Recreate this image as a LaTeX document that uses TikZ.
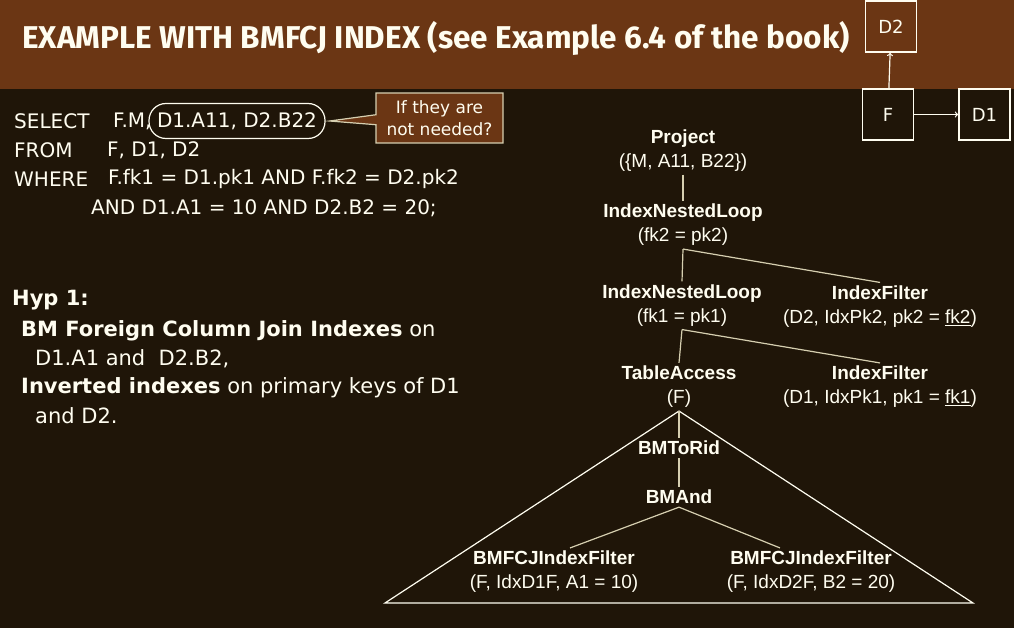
\documentclass[tikz,border=0pt]{standalone}
\usepackage{fontspec}
\usepackage{tikz}
\usetikzlibrary{shapes.callouts}
\setmainfont{Liberation Sans}
\newfontfamily\comic{DejaVu Sans}
\newfontfamily\headfont{Fira Sans}
\definecolor{hdr}{HTML}{6B3614}
\definecolor{bg}{HTML}{1F1508}
\definecolor{ink}{HTML}{FFFDF0}
\definecolor{edgec}{HTML}{D6CFB0}

\begin{document}
\begin{tikzpicture}[x=1pt,y=-1pt]
                \fill[bg] (0,0) rectangle (1014,628);
                \fill[hdr] (0,0) rectangle (1014,89);
                \node [anchor=west, inner sep=0, text=ink, font=\headfont\bfseries\fontsize{31.5}{34}\selectfont] (T) at (22,38) {EXAMPLE WITH BMFCJ INDEX (see Example 6.4 of the book)};
                % schema
                \begin{scope}[every node/.style={draw=ink, line width=1.6, minimum size=51, text=ink, font=\comic\fontsize{18}{22}\selectfont}]
                        \node [fill=hdr] (D2) at (891,26.5) {D2};
                        \node [fill=bg] (F) at (888,114.5) {F};
                        \node [fill=bg] (D1) at (984.5,114.5) {D1};
                \end{scope}
                \begin{scope}[every path/.style={draw=ink, line width=1.2, ->, >=to}]
                        \path (F) edge (D2);
                        \path (F) edge (D1);
                \end{scope}
                % query
                \begin{scope}[every node/.style={anchor=west, inner sep=0, text=ink, font=\comic\fontsize{20}{24}\selectfont}]
                        \node (sel) at (14,121) {SELECT};
                        \node (selA) at (113,121) {F.M,};
                        \node (frm) at (14,150) {FROM};
                        \node (frmA) at (107,150) {F, D1, D2};
                        \node (whr) at (14,179) {WHERE};
                        \node (whrA) at (108,179) {F.fk1 = D1.pk1 AND F.fk2 = D2.pk2};
                        \node (whrB) at (91,208) {AND D1.A1 = 10 AND D2.B2 = 20;};
                \end{scope}
                \node [draw=ink, line width=1.2, rounded corners=17, minimum width=176, minimum height=35, inner sep=4, text=ink, font=\comic\fontsize{20}{24}\selectfont] (cols) at (237,121) {D1.A11, D2.B22};
                \node [rectangle callout, draw=edgec, line width=1.2, fill=hdr, minimum width=127, minimum height=50, inner sep=3, align=center, text=ink, font=\comic\fontsize{17}{22}\selectfont, callout absolute pointer={([xshift=4]cols.east)}, callout pointer width=10] (note) at (439.5,118) {If they are\\not needed?};
                % hypothesis
                \begin{scope}[every node/.style={anchor=west, inner sep=0, text=ink, font=\comic\fontsize{21}{24}\selectfont}]
                        \node (h0) at (12,300) {\textbf{Hyp 1:}};
                        \node (h1) at (21,331) {\textbf{BM Foreign Column Join Indexes} on};
                        \node (h2) at (35,359) {D1.A1 and\ \ D2.B2,};
                        \node (h3) at (21,388) {\textbf{Inverted indexes} on primary keys of D1};
                        \node (h4) at (35,416) {and D2.};
                \end{scope}
                % plan
                \begin{scope}[every node/.style={align=center, inner sep=3, text=ink, font=\fontsize{19}{24}\selectfont}]
                        \node (P) at (683,150.5) {\textbf{Project}\\(\{M, A11, B22\})};
                        \node (INL2) at (683,225) {\textbf{IndexNestedLoop}\\(fk2 = pk2)};
                        \node (INL1) at (682,305.5) {\textbf{IndexNestedLoop}\\(fk1 = pk1)};
                        \node (IF2) at (880,306.5) {\textbf{IndexFilter}\\(D2, IdxPk2, pk2 = \underline{fk2})};
                        \node (TA) at (679,387) {\textbf{TableAccess}\\(F)};
                        \node (IF1) at (880,387) {\textbf{IndexFilter}\\(D1, IdxPk1, pk1 = \underline{fk1})};
                        \node (BR) at (679,448) {\textbf{BMToRid}};
                        \node (BA) at (679,497) {\textbf{BMAnd}};
                        \node (BF1) at (554,572) {\textbf{BMFCJIndexFilter}\\(F, IdxD1F, A1 = 10)};
                        \node (BF2) at (811,572) {\textbf{BMFCJIndexFilter}\\(F, IdxD2F, B2 = 20)};
                \end{scope}
                \coordinate (bl) at (385,603);
                \coordinate (br) at (973,603);
                \draw [draw=ink, line width=1.2] (bl) -- (TA.south) -- (br) -- cycle;
                \begin{scope}[every path/.style={draw=edgec, line width=1.2}]
                        \path (P.south) edge (INL2.north);
                        \path (INL2.south) edge (INL1.north);
                        \path (INL2.south) edge (IF2.north);
                        \path (INL1.south) edge (TA.north);
                        \path (INL1.south) edge (IF1.north);
                        \path (TA.south) edge (BR.north);
                        \path (BR.south) edge (BA.north);
                        \path (BA.south) edge ([xshift=16]BF1.north);
                        \path (BA.south) edge ([xshift=-31]BF2.north);
                \end{scope}
        \end{tikzpicture}
\end{document}
